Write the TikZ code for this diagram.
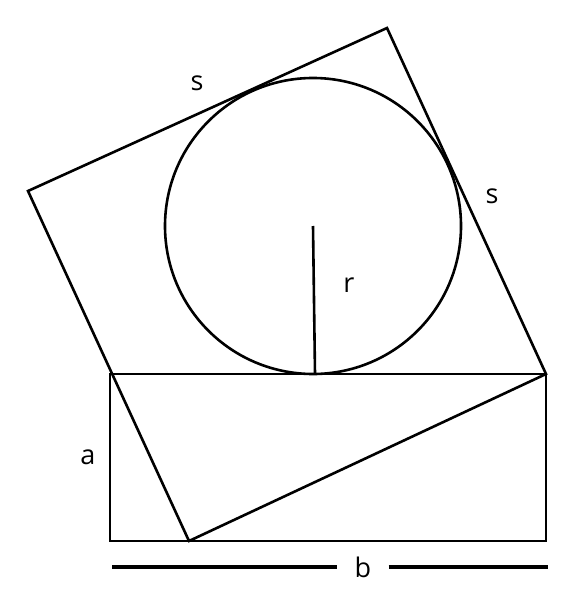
\documentclass[tikz,border=0pt]{standalone}
\usepackage{fontspec}
\setmainfont{Open Sans}
\usepackage{tikz}

\begin{document}
\begin{tikzpicture}[x=1pt, y=-1pt, line width=2.6pt, line join=miter,
    lbl/.style={anchor=center, inner sep=0pt, font=\fontsize{27}{32}\selectfont}]
\useasboundingbox (0,0) rectangle (576,615);
\coordinate (sqa) at (189,541);
\coordinate (sqb) at (546,374);
\coordinate (sqc) at (387,28);
\coordinate (sqd) at (28,191);
\coordinate (rtl) at (110,374);
\coordinate (rbl) at (110,541);
\coordinate (rbr) at (546,541);
\coordinate (ctr) at (313,226);
\coordinate (tch) at (315,374);
\coordinate (bl) at (112,567);
\coordinate (br) at (548,567);
\node[lbl] (s1) at (197,83) {s};
\node[lbl] (s2) at (492,196) {s};
\node[lbl] (r) at (349,285) {r};
\node[lbl] (a) at (88,457) {a};
\node[lbl, inner xsep=16pt] (b) at (363,567) {b};

        \draw (sqa) -- (sqb) -- (sqc) -- (sqd) -- cycle;
        \draw (rtl) -- (sqb) -- (rbr) -- (rbl) -- cycle;
        \draw (313,226) circle (148);
        \draw (ctr) -- (tch);
        \draw[line width=3.4pt] (bl) -- (b.west) (b.east) -- (br);
        \end{tikzpicture}
\end{document}
